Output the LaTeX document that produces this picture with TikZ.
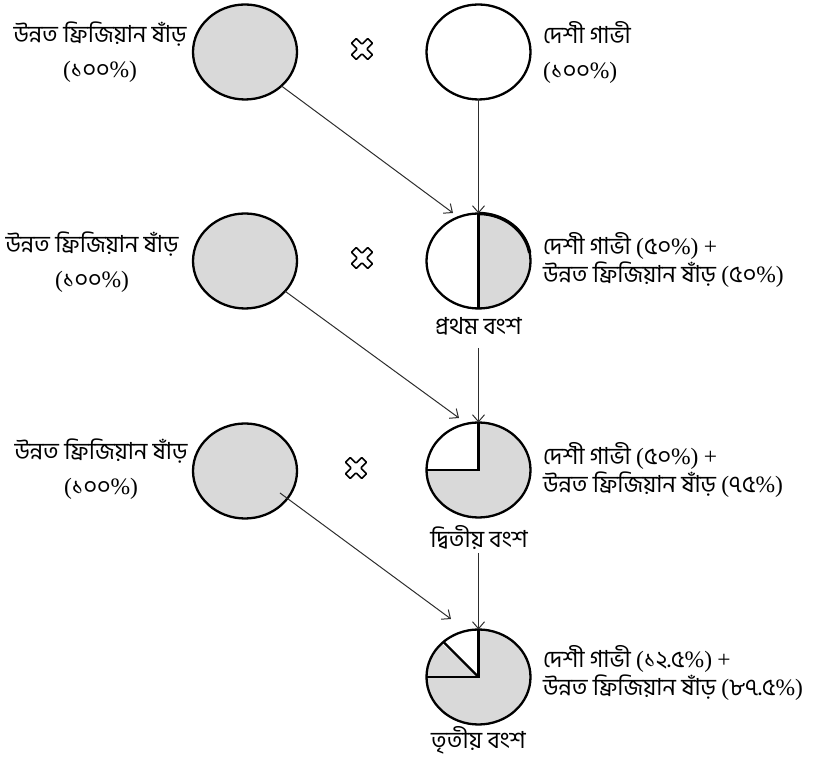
\documentclass[tikz,border=0pt]{standalone}
\usepackage{fontspec}
\usetikzlibrary{shapes.geometric,arrows.meta}
\newfontfamily\bn[Script=Bengali]{Hind Siliguri}
\newfontfamily\ser{Liberation Serif}
\definecolor{bullgray}{RGB}{217,217,217}
\definecolor{linkgray}{RGB}{45,45,45}
% a share in parentheses, brackets and percent sign set in a serif face
\newcommand\share[1]{{\ser(}#1{\ser\%)}}
\newcommand\plus{{\ser+}}

\tikzset{
  animal/.style={ellipse, draw=black, line width=2.3pt, minimum width=104pt,
    minimum height=95pt, inner sep=0pt, outer sep=0pt},
  bull/.style={animal, fill=bullgray},
  lefttxt/.style={inner sep=0pt, align=center, font=\bn\fontsize{23.5}{35}\selectfont},
  righttxt/.style={inner sep=0pt, align=left, anchor=west, font=\bn\fontsize{23.5}{28}\selectfont},
  gentxt/.style={inner sep=0pt, font=\bn\fontsize{23.5}{28}\selectfont},
  link/.style={draw=linkgray, line width=1pt,
    -{Straight Barb[length=7pt,width=12pt,line width=1pt]}},
  divider/.style={draw=black, line width=2.3pt},
  crossmark/.pic={
    \draw[line width=1.6pt, fill=white, rounded corners=0.8pt, rotate=45]
      (3.4,11.5) -- (3.4,3.4) -- (11.5,3.4) -- (11.5,-3.4) -- (3.4,-3.4)
      -- (3.4,-11.5) -- (-3.4,-11.5) -- (-3.4,-3.4) -- (-11.5,-3.4)
      -- (-11.5,3.4) -- (-3.4,3.4) -- (-3.4,11.5) -- cycle;
  }
}

\begin{document}
\begin{tikzpicture}[x=1pt, y=1pt]
  \useasboundingbox (0,0) rectangle (817,760);

  % centres of the offspring circles
  \coordinate (c2) at (478.5,499);
  \coordinate (c3) at (478.5,290);
  \coordinate (c4) at (478.5,83);

  % ---- parents ----
  \node[bull]   (b1) at (245,708) {};
  \node[animal] (r1) at (478.5,708) {};
  \pic at (362,711) {crossmark};
  \node[lefttxt] (tb1) at (100,707.5) {উন্নত ফ্রিজিয়ান ষাঁড়\\\share{১০০}};
  \node[righttxt, font=\bn\fontsize{23.5}{35}\selectfont]
    (tr1) at (543,707.5) {দেশী গাভী\\\share{১০০}};

  % ---- first generation: half and half ----
  \fill[bullgray] (c2) -- ++(0,47.5) arc[start angle=90, end angle=-90,
    x radius=52, y radius=47.5] -- cycle;
  \node[animal] (r2) at (c2) {};
  \draw[divider] (r2.north) -- (r2.south);
  \draw[line width=3.4pt] (r2.north) arc[start angle=90, end angle=10,
    x radius=52, y radius=47.5];
  \node[gentxt] (g1) at (478.5,434) {প্রথম বংশ};
  \node[righttxt] (t2) at (543,500) {দেশী গাভী \share{৫০} \plus\\উন্নত ফ্রিজিয়ান ষাঁড় \share{৫০}};

  \node[bull] (b2) at (245,499) {};
  \pic at (362,502) {crossmark};
  \node[lefttxt] (tb2) at (92,497.5) {উন্নত ফ্রিজিয়ান ষাঁড়\\\share{১০০}};

  % ---- second generation: three quarters ----
  \fill[bullgray] (c3) -- ++(0,47.5) arc[start angle=90, end angle=-180,
    x radius=52, y radius=47.5] -- cycle;
  \node[animal] (r3) at (c3) {};
  \draw[divider] (r3.north) -- (r3.center) -- (r3.west);
  \node[gentxt] (g2) at (479,223) {দ্বিতীয় বংশ};
  \node[righttxt] (t3) at (543,290) {দেশী গাভী \share{৫০} \plus\\উন্নত ফ্রিজিয়ান ষাঁড় \share{৭৫}};

  \node[bull] (b3) at (245,289) {};
  \pic at (356,292) {crossmark};
  \node[lefttxt] (tb3) at (101,290.5) {উন্নত ফ্রিজিয়ান ষাঁড়\\\share{১০০}};

  % ---- third generation: seven eighths ----
  \fill[bullgray] (c4) -- ++(0,47.5) arc[start angle=90, end angle=-225,
    x radius=52, y radius=47.5] -- cycle;
  \node[animal] (r4) at (c4) {};
  \draw[divider] (r4.north) -- (r4.center) -- (r4.west);
  \draw[divider] (r4.center) -- (r4.135);
  \node[gentxt] (g3) at (478.5,20) {তৃতীয় বংশ};
  \node[righttxt] (t4) at (543,87) {দেশী গাভী \share{১২.৫} \plus\\উন্নত ফ্রিজিয়ান ষাঁড় \share{৮৭.৫}};

  % ---- crossing arrows ----
  \coordinate (s3) at (280,267);
  \coordinate (e1) at (453,547);
  \coordinate (e2) at (459,342);
  \coordinate (e3) at (451,141);
  \coordinate (v2) at (478.5,412);
  \coordinate (v3) at (478.5,207);

  \draw[link] (b1.-43) -- (e1);
  \draw[link] (r1.south) -- (r2.north);
  \draw[link] (b2.-37) -- (e2);
  \draw[link] (v2) -- (r3.north);
  \draw[link] (s3) -- (e3);
  \draw[link] (v3) -- (r4.north);
\end{tikzpicture}
\end{document}
